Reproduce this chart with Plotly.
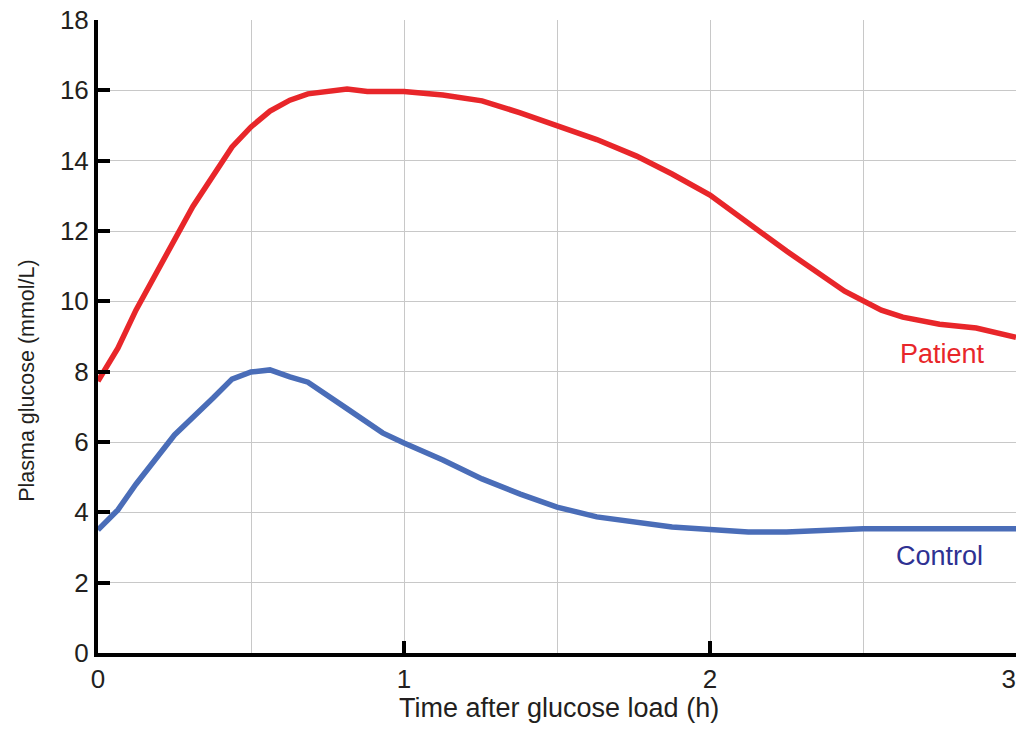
import plotly.graph_objects as go

time_patient = [0, 0.065, 0.124, 0.31, 0.438, 0.5, 0.562, 0.627, 0.686, 0.814, 0.88, 1.0,
                1.127, 1.255, 1.38, 1.5, 1.63, 1.76, 1.876, 2.0, 2.1, 2.25, 2.44, 2.5,
                2.56, 2.63, 2.75, 2.87, 3.0]
glucose_patient = [7.73, 8.67, 9.75, 12.7, 14.39, 14.96, 15.41, 15.72, 15.9, 16.04, 15.97, 15.97,
                   15.87, 15.7, 15.36, 14.98, 14.6, 14.13, 13.62, 13.02, 12.37, 11.43, 10.29, 10.04,
                   9.75, 9.55, 9.35, 9.24, 8.98]

time_control = [0, 0.065, 0.124, 0.25, 0.376, 0.438, 0.5, 0.562, 0.627, 0.686, 0.81, 0.93, 1.0,
                1.127, 1.255, 1.38, 1.5, 1.63, 1.876, 2.0, 2.125, 2.25, 2.5, 3.0]
glucose_control = [3.5, 4.07, 4.8, 6.2, 7.25, 7.79, 7.99, 8.05, 7.85, 7.7, 6.97, 6.26, 5.97,
                   5.49, 4.95, 4.52, 4.15, 3.87, 3.58, 3.5, 3.44, 3.44, 3.53, 3.53]

x_ticks = [0, 1, 2, 3]
x_tick_labels = ["0", "1", "2", "3\u00a0\u00a0"]
y_ticks = [0, 2, 4, 6, 8, 10, 12, 14, 16, 18]
y_tick_labels = [str(v) for v in y_ticks]

x_title = "Time after glucose load (h)"
y_title = "Plasma glucose (mmol/L)"

FONT = "Liberation Sans, Arial, sans-serif"

fig = go.Figure()
fig.add_trace(go.Scatter(x=time_patient, y=glucose_patient, mode="lines",
                         line=dict(color="#E8262A", width=5.5), name="Patient", showlegend=False))
fig.add_trace(go.Scatter(x=time_control, y=glucose_control, mode="lines",
                         line=dict(color="#4A6DB8", width=5.5), name="Control", showlegend=False))

fig.add_annotation(x=2.76, y=8.5, text="Patient", showarrow=False,
                   font=dict(family=FONT, size=27, color="#E8262A"))
fig.add_annotation(x=2.75, y=2.77, text="Control", showarrow=False,
                   font=dict(family=FONT, size=27, color="#2E3192"))

# axis titles
fig.add_annotation(xref="paper", yref="paper", x=0.502, y=-0.0869, text=x_title,
                   showarrow=False, xanchor="center", yanchor="middle",
                   font=dict(family=FONT, size=27, color="#231F20"))
fig.add_annotation(xref="paper", yref="paper", x=-0.0773, y=0.43, text=y_title,
                   showarrow=False, xanchor="center", yanchor="middle", textangle=-90,
                   font=dict(family=FONT, size=21.5, color="#231F20"))

fig.update_layout(
    width=1008, height=718,
    margin=dict(l=90, r=0, t=12, b=73),
    paper_bgcolor="white", plot_bgcolor="white",
    font=dict(family=FONT, size=26, color="#231F20"),
)
fig.update_xaxes(
    range=[0, 3], tickvals=x_ticks, ticktext=x_tick_labels,
    showline=True, linecolor="black", linewidth=4,
    ticks="inside", ticklen=12, tickwidth=4, tickcolor="black",
    showgrid=True, gridcolor="#C8C8C8", gridwidth=1,
    minor=dict(dtick=0.5, showgrid=True, gridcolor="#C8C8C8", gridwidth=1),
    zeroline=False, ticklabeloverflow="allow", automargin=False,
    tickfont=dict(size=26),
)
fig.update_yaxes(
    range=[0, 18], tickvals=y_ticks, ticktext=y_tick_labels,
    showline=True, linecolor="black", linewidth=4,
    ticks="inside", ticklen=12, tickwidth=4, tickcolor="black",
    showgrid=True, gridcolor="#C8C8C8", gridwidth=1,
    zeroline=False, ticklabeloverflow="allow", automargin=False,
    tickfont=dict(size=26),
)

fig.write_html("out.html")
